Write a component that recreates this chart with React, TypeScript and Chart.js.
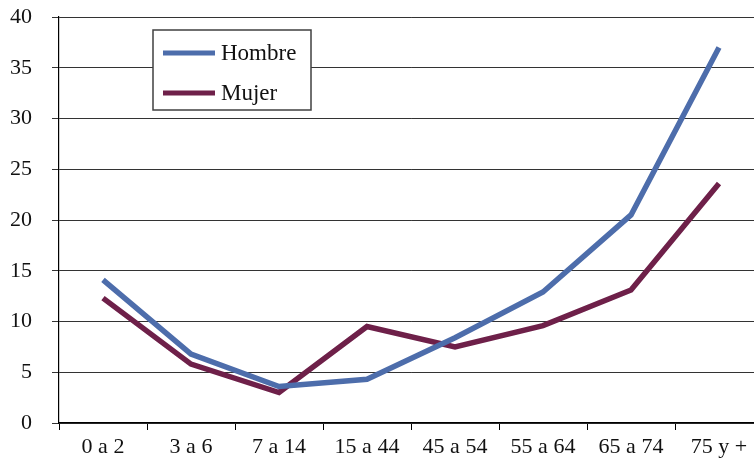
import React, { useEffect, useRef } from "react";
import { Chart, registerables } from "chart.js";

Chart.register(...registerables);

const categories = ["0 a 2", "3 a 6", "7 a 14", "15 a 44", "45 a 54", "55 a 64", "65 a 74", "75 y +"];
const hombre = [14.1, 6.8, 3.6, 4.3, 8.4, 12.9, 20.5, 37.0];
const mujer = [12.3, 5.8, 3.0, 9.5, 7.5, 9.6, 13.1, 23.6];
const yTicks = [0, 5, 10, 15, 20, 25, 30, 35, 40];

const FONT = "'Liberation Serif', serif";
const BLUE = "#4D6DAB";
const PURPLE = "#6E2049";

const legendBox = {
  id: "legendBox",
  afterDraw(chart: any) {
    const { ctx, chartArea } = chart;
    const x = chartArea.left + 94;
    const y = chartArea.top + 13;
    const w = 158;
    const h = 80;
    ctx.save();
    ctx.fillStyle = "#ffffff";
    ctx.fillRect(x, y, w, h);
    ctx.strokeStyle = "#404040";
    ctx.lineWidth = 1.5;
    ctx.strokeRect(x, y, w, h);
    const items = chart.data.datasets;
    items.forEach((ds: any, i: number) => {
      const ly = y + 23 + i * 40;
      ctx.strokeStyle = ds.borderColor;
      ctx.lineWidth = 5;
      ctx.beginPath();
      ctx.moveTo(x + 10, ly);
      ctx.lineTo(x + 62, ly);
      ctx.stroke();
      ctx.fillStyle = "#111";
      ctx.font = "23px " + FONT;
      ctx.textBaseline = "middle";
      ctx.textAlign = "left";
      ctx.fillText(ds.label, x + 68, ly + 1);
    });
    ctx.restore();
  },
};

export default function App() {
  const ref = useRef<HTMLCanvasElement>(null);
  useEffect(() => {
    if (!ref.current) return;
    const chart = new Chart(ref.current, {
      type: "line",
      data: {
        labels: categories,
        datasets: [
          { label: "Hombre", data: hombre, borderColor: BLUE, backgroundColor: BLUE, borderWidth: 5.5, pointRadius: 0, tension: 0 },
          { label: "Mujer", data: mujer, borderColor: PURPLE, backgroundColor: PURPLE, borderWidth: 5.5, pointRadius: 0, tension: 0 },
        ],
      },
      options: {
        responsive: false,
        animation: false,
        layout: { padding: { top: 17, right: 7, left: 0, bottom: 0 } },
        plugins: { legend: { display: false }, tooltip: { enabled: false } },
        scales: {
          x: {
            offset: true,
            grid: { offset: true, drawOnChartArea: false, tickLength: 7, color: "#000", lineWidth: 1 },
            border: { color: "#000", width: 1.2 },
            ticks: { color: "#111", font: { family: FONT, size: 22 }, padding: 4, maxRotation: 0, autoSkip: false },
            afterFit: (s: any) => { s.height = 35; s.paddingLeft = 0; s.paddingRight = 0; },
          },
          y: {
            min: 0,
            max: 40,
            afterBuildTicks: (s: any) => { s.ticks = yTicks.map((v) => ({ value: v })); },
            grid: { color: "#333", lineWidth: 1, tickLength: 7 },
            border: { color: "#000", width: 1.2 },
            ticks: { color: "#111", font: { family: FONT, size: 22 }, padding: 20 },
            afterFit: (s: any) => { s.width = 59; s.paddingTop = 0; s.paddingBottom = 0; },
          },
        },
      },
      plugins: [legendBox],
    });
    return () => chart.destroy();
  }, []);
  return (
    <div style={{ position: "fixed", left: 0, top: 0, width: 754, height: 458, overflow: "hidden", background: "#fff" }}>
      <canvas ref={ref} width={770} height={458} style={{ width: 770, height: 458, display: "block" }} />
    </div>
  );
}
